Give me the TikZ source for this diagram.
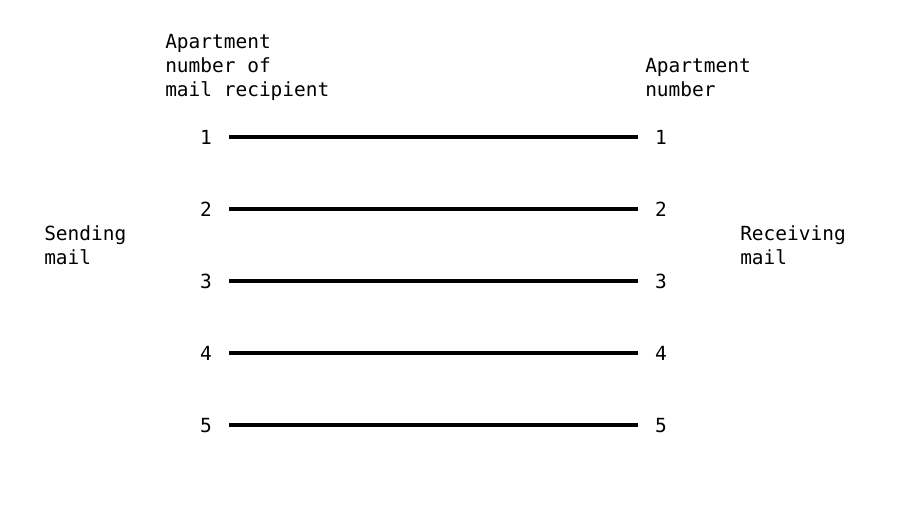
\documentclass[tikz,border=0pt]{standalone}
\usepackage{fontspec}
\setmonofont{DejaVu Sans Mono}
\begin{document}
\begin{tikzpicture}[x=0.75pt,y=-0.75pt,
  lbl/.style={font=\ttfamily\fontsize{14.6}{18}\selectfont, inner sep=0pt, align=left, anchor=base west},
  num/.style={font=\ttfamily\fontsize{14.6}{18}\selectfont, inner sep=0pt, anchor=base},
  wire/.style={line width=2.4pt, black}]
\useasboundingbox (0,0) rectangle (906,504);
\fill[white] (0,0) rectangle (906,504);
\node[lbl] (hl) at (165,96) {Apartment\\number of\\mail recipient};
\node[lbl] (hr) at (645,96) {Apartment\\number};
\node[lbl] (send) at (44,264) {Sending\\mail};
\node[lbl] (recv) at (740,264) {Receiving\\mail};
\foreach \i/\y in {1/137,2/209,3/281,4/353,5/425}{
  \node[num] (nl\i) at (206,\y+7) {\i};
  \node[num] (nr\i) at (661,\y+7) {\i};
  \coordinate (a\i) at (229,\y);
  \coordinate (b\i) at (638,\y);
  \draw[wire] (a\i) -- (b\i);
}
\end{tikzpicture}
\end{document}
